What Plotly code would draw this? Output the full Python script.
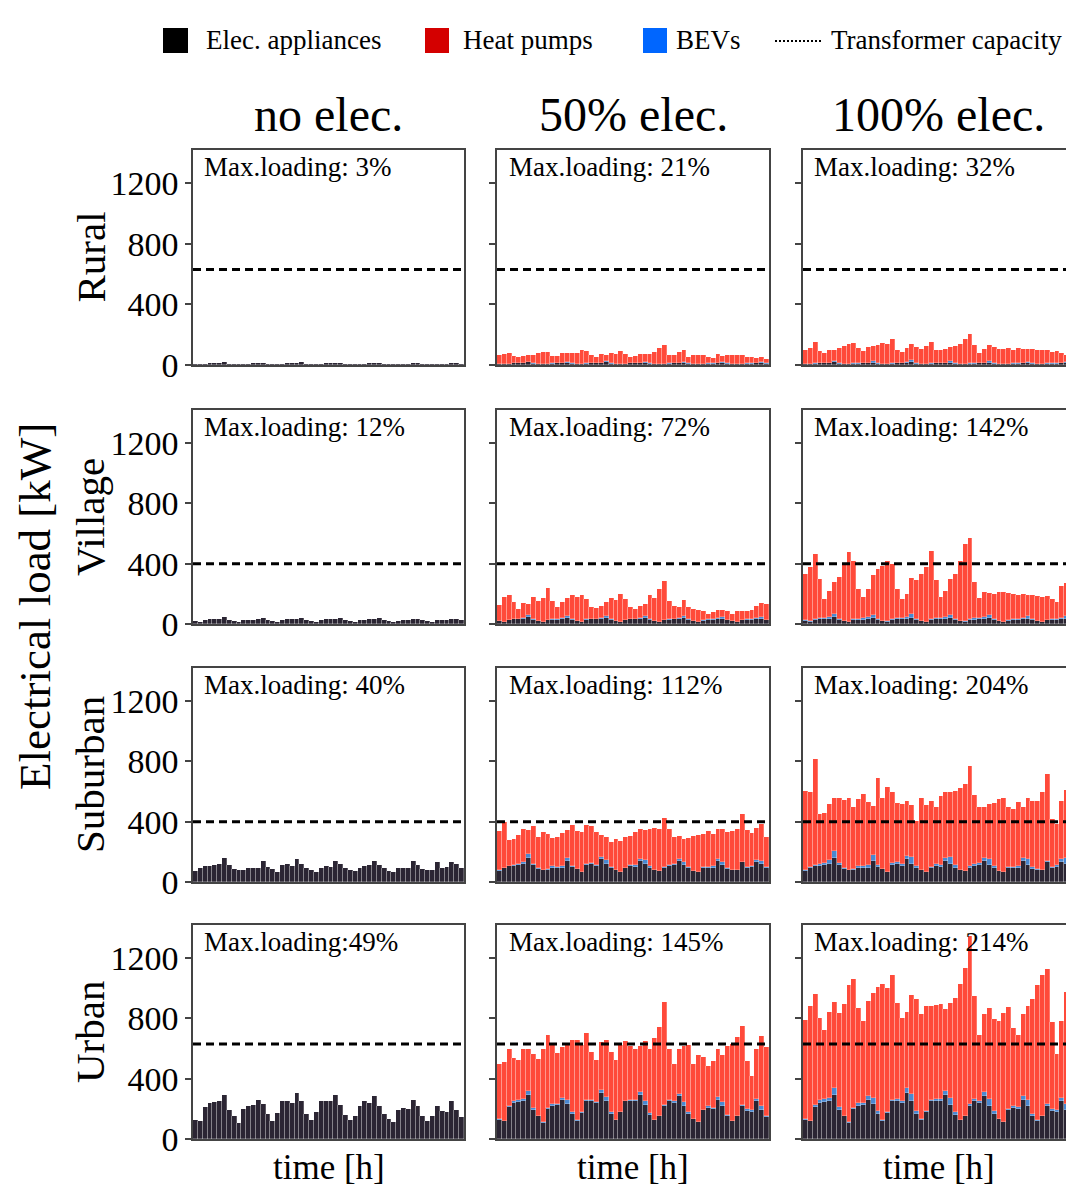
import plotly.graph_objects as go

# ---------------- data ----------------
hours = list(range(0, 168, 3))  # one week, 3-hourly bars

row_names = ["Rural", "Village", "Suburban", "Urban"]
col_names = ["no elec.", "50% elec.", "100% elec."]
capacity_kva = [630, 400, 400, 630]

max_loading = [
    ["Max.loading: 3%", "Max.loading: 21%", "Max.loading: 32%"],
    ["Max.loading: 12%", "Max.loading: 72%", "Max.loading: 142%"],
    ["Max.loading: 40%", "Max.loading: 112%", "Max.loading: 204%"],
    ["Max.loading:49%", "Max.loading: 145%", "Max.loading: 214%"],
]

# Electrical appliances (same in all electrification scenarios of a row)
app_rural = [7, 5, 8, 10, 10, 11, 17, 9, 6, 5, 8, 9, 10, 11, 15, 9,
             7, 5, 9, 10, 10, 12, 19, 9, 6, 5, 8, 10, 10, 11, 16, 9,
             7, 5, 8, 9, 10, 11, 15, 8, 6, 4, 7, 9, 9, 10, 14, 8,
             6, 5, 8, 9, 9, 10, 14, 8]
app_village = [22, 16, 26, 30, 30, 33, 47, 28, 20, 15, 25, 28, 29, 32, 38, 26,
               21, 16, 27, 31, 30, 34, 41, 28, 20, 15, 26, 30, 31, 33, 40, 27,
               21, 16, 25, 29, 30, 32, 39, 27, 19, 14, 23, 27, 27, 30, 36, 25,
               20, 15, 24, 26, 26, 30, 35, 24]
app_suburban = [75, 95, 104, 104, 110, 121, 160, 110, 88, 77, 80, 95, 90, 95, 137, 100,
                85, 66, 115, 120, 105, 150, 120, 92, 77, 66, 90, 104, 102, 140, 120, 95,
                78, 73, 95, 104, 110, 139, 110, 90, 72, 66, 95, 90, 95, 139, 110, 88,
                80, 77, 130, 90, 99, 135, 120, 90]
app_urban = [128, 118, 215, 242, 248, 250, 295, 195, 150, 108, 200, 222, 225, 260, 235, 165,
             120, 175, 251, 250, 238, 308, 250, 165, 125, 180, 249, 249, 251, 295, 225, 160,
             125, 150, 222, 249, 240, 285, 222, 165, 130, 110, 190, 207, 200, 262, 222, 150,
             120, 150, 222, 189, 182, 250, 195, 145]

# Battery electric vehicles
bev_rural_50 = [0, 0, 1, 2, 2, 3, 6, 2, 0, 0, 1, 2, 2, 3, 5, 2, 0, 0, 1, 2, 2, 3, 7, 2,
                0, 0, 1, 2, 2, 3, 6, 2, 0, 0, 1, 2, 2, 3, 6, 2, 0, 0, 1, 2, 2, 3, 5, 2,
                0, 0, 1, 2, 2, 2, 5, 2]
bev_rural_100 = [1, 0, 2, 3, 3, 5, 10, 3, 1, 0, 2, 3, 3, 5, 9, 3, 1, 0, 2, 3, 3, 5, 11, 3,
                 1, 0, 2, 3, 3, 5, 10, 3, 1, 0, 2, 3, 3, 5, 9, 3, 1, 0, 2, 3, 3, 4, 8, 3,
                 1, 0, 2, 3, 3, 4, 8, 3]
bev_village_50 = [1, 0, 3, 5, 5, 8, 14, 5, 1, 0, 3, 5, 5, 8, 12, 5, 1, 0, 3, 5, 5, 8, 15, 5,
                  1, 0, 3, 5, 5, 8, 13, 5, 1, 0, 3, 5, 5, 8, 13, 5, 1, 0, 2, 4, 5, 7, 12, 4,
                  1, 0, 3, 4, 4, 7, 11, 4]
bev_village_100 = [2, 1, 5, 8, 8, 12, 22, 8, 2, 1, 5, 8, 9, 12, 20, 8, 2, 1, 5, 9, 8, 13, 24, 8,
                   2, 1, 5, 8, 8, 12, 22, 8, 2, 1, 5, 8, 8, 12, 21, 8, 2, 1, 4, 7, 8, 11, 20, 7,
                   2, 1, 5, 7, 7, 11, 19, 7]
bev_suburban_50 = [2, 1, 5, 8, 8, 12, 25, 8, 2, 1, 5, 8, 9, 12, 22, 8, 2, 1, 5, 9, 8, 13, 26, 8,
                   2, 1, 5, 8, 8, 12, 24, 8, 2, 1, 5, 8, 8, 12, 23, 8, 2, 1, 4, 7, 8, 11, 22, 7,
                   2, 1, 5, 7, 7, 11, 21, 7]
bev_suburban_100 = [3, 2, 8, 14, 14, 22, 45, 15, 3, 2, 8, 13, 15, 21, 40, 14, 3, 2, 9, 15, 14, 24, 48, 15,
                    3, 2, 8, 14, 13, 22, 44, 15, 3, 2, 8, 13, 14, 22, 42, 14, 3, 1, 7, 12, 13, 21, 40, 13,
                    3, 2, 8, 12, 12, 20, 38, 13]
bev_urban_50 = [3, 2, 6, 10, 10, 15, 25, 12, 3, 2, 6, 9, 10, 14, 23, 11, 3, 1, 7, 10, 9, 16, 27, 12,
                3, 2, 6, 10, 10, 15, 24, 12, 2, 2, 6, 9, 10, 14, 24, 11, 3, 1, 5, 9, 9, 14, 22, 10,
                2, 2, 6, 8, 9, 13, 21, 10]
bev_urban_100 = [5, 3, 10, 15, 15, 25, 45, 20, 4, 3, 9, 14, 16, 24, 40, 18, 5, 2, 10, 16, 15, 28, 48, 20,
                 5, 3, 11, 15, 14, 26, 44, 19, 4, 3, 10, 14, 15, 25, 42, 18, 5, 2, 9, 13, 14, 24, 40, 17,
                 4, 3, 9, 12, 13, 22, 38, 16]

# Heat pumps
hp_rural_50 = [56, 70, 71, 46, 42, 44, 40, 54, 74, 80, 76, 47, 48, 66, 59, 65,
               71, 95, 80, 53, 43, 57, 40, 69, 66, 85, 61, 43, 50, 58, 50, 64,
               81, 105, 123, 52, 51, 71, 79, 45, 57, 59, 55, 45, 37, 61, 43, 53,
               57, 61, 56, 45, 41, 35, 35, 28]
hp_rural_100 = [88, 105, 140, 77, 67, 80, 71, 100, 121, 133, 134, 98, 77, 100, 104, 123,
                136, 137, 159, 87, 72, 95, 111, 108, 101, 120, 140, 87, 83, 89, 92, 115,
                132, 165, 192, 118, 65, 89, 105, 107, 100, 103, 103, 88, 103, 95, 83, 96,
                93, 97, 86, 76, 83, 63, 44, 63]
hp_village_50 = [102, 164, 161, 108, 65, 99, 71, 147, 134, 160, 212, 117, 81, 103, 123, 164,
                 158, 179, 135, 74, 70, 79, 88, 142, 139, 185, 136, 75, 64, 79, 78, 163,
                 148, 214, 260, 116, 83, 70, 107, 78, 79, 79, 62, 38, 48, 57, 45, 55,
                 45, 73, 61, 57, 61, 82, 91, 106]
hp_village_100 = [307, 363, 433, 262, 127, 176, 209, 274, 373, 459, 390, 194, 140, 186, 270, 330,
                  362, 403, 368, 191, 128, 154, 237, 254, 313, 364, 455, 252, 141, 176, 238, 296,
                  397, 513, 538, 239, 132, 171, 149, 165, 194, 197, 182, 164, 155, 157, 138, 162,
                  166, 164, 159, 134, 116, 213, 215, 233]
hp_suburban_50 = [263, 304, 171, 173, 192, 217, 160, 252, 210, 252, 235, 187, 202, 218, 188, 267,
                  253, 268, 260, 242, 222, 146, 155, 164, 207, 203, 202, 196, 225, 203, 200, 252,
                  280, 278, 325, 243, 179, 157, 155, 197, 231, 243, 220, 243, 217, 199, 217, 234,
                  258, 272, 313, 247, 218, 213, 245, 202]
hp_suburban_100 = [528, 498, 703, 334, 331, 377, 355, 435, 454, 481, 412, 446, 480, 413, 328, 579,
                   472, 562, 472, 386, 401, 363, 345, 300, 480, 442, 442, 382, 459, 438, 435, 495,
                   544, 575, 668, 462, 372, 335, 365, 417, 475, 492, 397, 381, 426, 339, 405, 437,
                   457, 521, 578, 316, 277, 383, 455, 485]
hp_urban_50 = [369, 390, 379, 288, 264, 335, 280, 360, 377, 490, 484, 408, 335, 336, 380, 478,
               537, 448, 443, 320, 277, 317, 380, 403, 397, 440, 395, 361, 339, 310, 400, 428,
               542, 588, 682, 341, 245, 300, 373, 448, 367, 448, 349, 268, 310, 323, 313, 458,
               507, 526, 522, 321, 228, 335, 470, 454]
hp_urban_100 = [657, 759, 735, 543, 457, 570, 570, 620, 745, 909, 850, 633, 544, 631, 695, 825,
                905, 827, 829, 635, 553, 507, 655, 745, 700, 697, 621, 626, 634, 540, 635, 755,
                900, 984, 1116, 686, 435, 520, 603, 615, 645, 727, 680, 518, 475, 543, 623, 760,
                895, 937, 894, 576, 366, 509, 740, 795]

appliances = [app_rural, app_village, app_suburban, app_urban]
bevs = [[bev_rural_50, bev_rural_100], [bev_village_50, bev_village_100],
        [bev_suburban_50, bev_suburban_100], [bev_urban_50, bev_urban_100]]
heat_pumps = [[hp_rural_50, hp_rural_100], [hp_village_50, hp_village_100],
              [hp_suburban_50, hp_suburban_100], [hp_urban_50, hp_urban_100]]

legend_labels = ["Elec. appliances", "Heat pumps", "BEVs", "Transformer capacity"]

# ---------------- style ----------------
OFF = 8                      # page body margin of the html page
W, H = 1074 - OFF, 1189 - OFF
FONT = "Liberation Serif"
C_APP = "#2b2533"
C_HP = "#ff4a3a"
C_BEV = "#4a88d0"
LEG_APP, LEG_HP, LEG_BEV = "#000000", "#d40000", "#0066ff"
AX_C = "#444444"
BAR_EDGE = "rgba(255,255,255,0.35)"

# panel positions in page pixels
col_px = [(193, 464), (497, 769), (803, 1074)]
row_px = [(150, 365), (410, 624), (668, 882), (925, 1139)]


def px_x(v):
    return min(1.0, max(0.0, (v - OFF) / W))


def px_y(v):
    return min(1.0, max(0.0, 1 - (v - OFF) / H))


fig = go.Figure()
layout = dict(
    width=W, height=H, margin=dict(l=0, r=0, t=0, b=0),
    paper_bgcolor="white", plot_bgcolor="white",
    barmode="stack", bargap=0.0, showlegend=False,
    font=dict(family=FONT, color="black"),
    template="none",
)
annotations = []
shapes = []

for r in range(4):
    for c in range(3):
        k = r * 3 + c + 1
        xa = "x" if k == 1 else f"x{k}"
        ya = "y" if k == 1 else f"y{k}"
        fig.add_trace(go.Bar(x=hours, y=appliances[r],
                             marker=dict(color=C_APP, line=dict(width=0.7, color=BAR_EDGE)),
                             xaxis=xa, yaxis=ya, name=legend_labels[0], showlegend=False))
        if c > 0:
            fig.add_trace(go.Bar(x=hours, y=bevs[r][c - 1],
                                 marker=dict(color=C_BEV, line=dict(width=0.7, color=BAR_EDGE)),
                                 xaxis=xa, yaxis=ya, name=legend_labels[2], showlegend=False))
            fig.add_trace(go.Bar(x=hours, y=heat_pumps[r][c - 1],
                                 marker=dict(color=C_HP, line=dict(width=0.7, color=BAR_EDGE)),
                                 xaxis=xa, yaxis=ya, name=legend_labels[1], showlegend=False))
        shapes.append(dict(type="line", xref=f"{xa} domain", x0=0, x1=1, yref=ya,
                           y0=capacity_kva[r], y1=capacity_kva[r],
                           line=dict(color="black", width=3, dash="8px,5px")))
        x0, x1 = col_px[c]
        y0, y1 = row_px[r]
        layout[f"xaxis{'' if k == 1 else k}"] = dict(
            domain=[px_x(x0), px_x(x1)], anchor=ya, range=[-1.5, 166.5],
            showticklabels=False, ticks="", showgrid=False, zeroline=False,
            showline=True, mirror=True, linecolor=AX_C, linewidth=1.5,
        )
        layout[f"yaxis{'' if k == 1 else k}"] = dict(
            domain=[px_y(y1), px_y(y0)], anchor=xa, range=[0, 1420],
            tickvals=[0, 400, 800, 1200], ticks="outside", ticklen=6, tickwidth=1.5,
            tickcolor=AX_C, showticklabels=(c == 0), tickfont=dict(size=34, family=FONT),
            showgrid=False, zeroline=False, showline=True, mirror=(c < 2),
            linecolor=AX_C, linewidth=1.5, automargin=False,
        )
        annotations.append(dict(text=max_loading[r][c], xref=f"{xa} domain", yref=f"{ya} domain",
                                x=0.035, y=0.998, xanchor="left", yanchor="top", showarrow=False,
                                font=dict(size=27, family=FONT)))

# column titles and x-axis titles
for c in range(3):
    cx = px_x(sum(col_px[c]) / 2)
    annotations.append(dict(text=col_names[c], xref="paper", yref="paper", x=cx, y=px_y(115),
                            xanchor="center", yanchor="middle", showarrow=False,
                            font=dict(size=48, family=FONT)))
    annotations.append(dict(text="time [h]", xref="paper", yref="paper", x=cx, y=px_y(1167),
                            xanchor="center", yanchor="middle", showarrow=False,
                            font=dict(size=35, family=FONT)))
# row titles
for r in range(4):
    cy = px_y(sum(row_px[r]) / 2)
    annotations.append(dict(text=row_names[r], xref="paper", yref="paper", x=px_x(90), y=cy,
                            xanchor="center", yanchor="middle", textangle=-90, showarrow=False,
                            font=dict(size=41, family=FONT)))
annotations.append(dict(text="Electrical load [kW]", xref="paper", yref="paper", x=px_x(35),
                        y=px_y(607), xanchor="center", yanchor="middle", textangle=-90,
                        showarrow=False, font=dict(size=45, family=FONT)))

# legend (top)
leg_items = [(163, 188, LEG_APP, 204), (425, 449, LEG_HP, 461), (643, 667, LEG_BEV, 674)]
for (a, b, col, tx), lab in zip(leg_items, legend_labels[:3]):
    shapes.append(dict(type="rect", xref="paper", yref="paper", x0=px_x(a), x1=px_x(b),
                       y0=px_y(53), y1=px_y(28), fillcolor=col, line=dict(width=0)))
    annotations.append(dict(text=lab, xref="paper", yref="paper", x=px_x(tx), y=px_y(40),
                            xanchor="left", yanchor="middle", showarrow=False,
                            font=dict(size=27, family=FONT)))
shapes.append(dict(type="line", xref="paper", yref="paper", x0=px_x(775), x1=px_x(821),
                   y0=px_y(41), y1=px_y(41), line=dict(color="black", width=2, dash="2px,2px")))
annotations.append(dict(text=legend_labels[3], xref="paper", yref="paper", x=px_x(829), y=px_y(40),
                        xanchor="left", yanchor="middle", showarrow=False,
                        font=dict(size=27, family=FONT)))

layout["annotations"] = annotations
layout["shapes"] = shapes
fig.update_layout(**layout)
fig.write_html("out.html")
